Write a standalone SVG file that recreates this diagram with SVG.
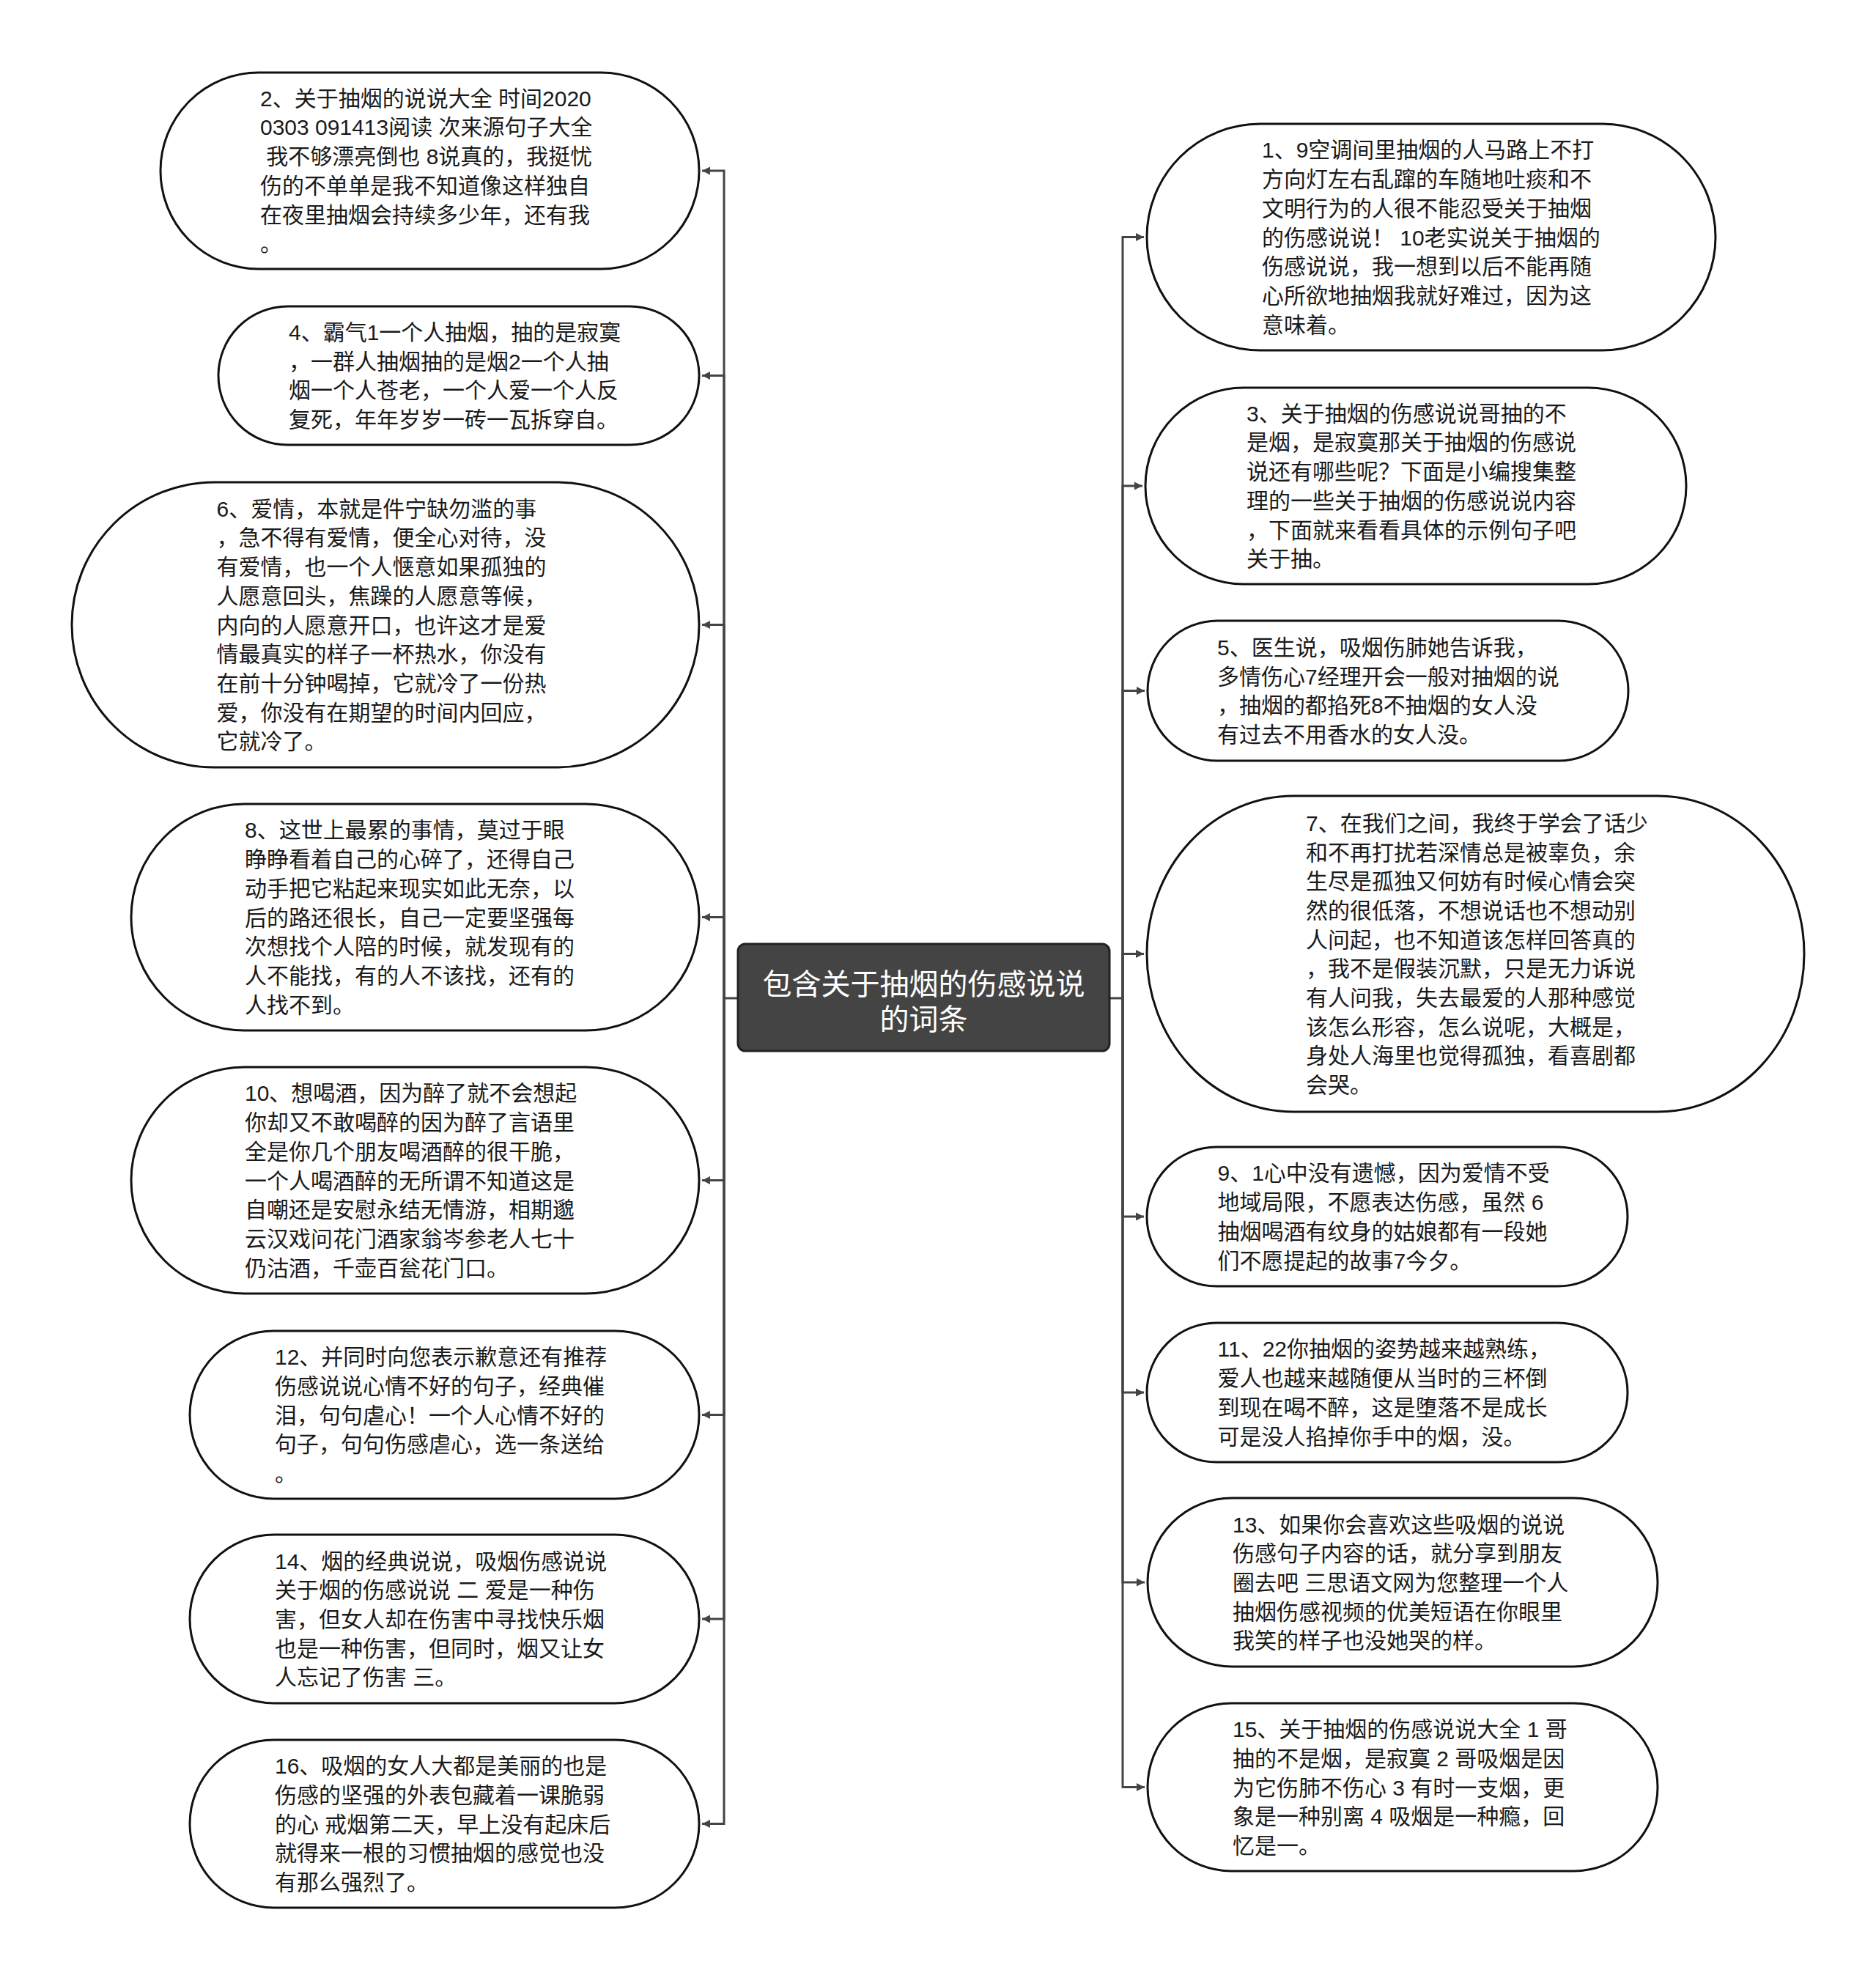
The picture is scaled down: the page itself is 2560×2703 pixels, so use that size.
<svg xmlns="http://www.w3.org/2000/svg" width="2560" height="2703" viewBox="0 0 2560 2703">
<style>
.node{fill:#ffffff;stroke:#111111;stroke-width:3}
.t{font-family:"Liberation Sans","Noto Sans CJK SC",sans-serif;font-size:30px;fill:#1a1a1a;white-space:pre}
.ct{font-family:"Liberation Sans","Noto Sans CJK SC",sans-serif;font-size:40px;fill:#ffffff;text-anchor:middle}
.c{fill:none;stroke:#444444;stroke-width:3}
</style>
<defs>
<marker id="ah" markerUnits="userSpaceOnUse" markerWidth="12" markerHeight="12" viewBox="0 0 12 12" refX="11" refY="6" orient="auto">
<path d="M0,0.5 L11,6 L0,11.5 Z" fill="#444444"/>
</marker>
</defs>
<rect width="2560" height="2703" fill="#ffffff"/>
<g id="connectors">
<path class="c" d="M1007,1362 H988"/>
<path class="c" d="M1514,1362 H1532"/>
<path class="c" d="M988,1362 V233 H958" marker-end="url(#ah)"/>
<path class="c" d="M988,1362 V512.5 H958" marker-end="url(#ah)"/>
<path class="c" d="M988,1362 V852.5 H958" marker-end="url(#ah)"/>
<path class="c" d="M988,1362 V1251.5 H958" marker-end="url(#ah)"/>
<path class="c" d="M988,1362 V1610.5 H958" marker-end="url(#ah)"/>
<path class="c" d="M988,1362 V1930.5 H958" marker-end="url(#ah)"/>
<path class="c" d="M988,1362 V2209 H958" marker-end="url(#ah)"/>
<path class="c" d="M988,1362 V2488.5 H958" marker-end="url(#ah)"/>
<path class="c" d="M1532,1362 V323.5 H1561" marker-end="url(#ah)"/>
<path class="c" d="M1532,1362 V663 H1559" marker-end="url(#ah)"/>
<path class="c" d="M1532,1362 V942.5 H1562" marker-end="url(#ah)"/>
<path class="c" d="M1532,1362 V1301.5 H1561" marker-end="url(#ah)"/>
<path class="c" d="M1532,1362 V1660 H1561" marker-end="url(#ah)"/>
<path class="c" d="M1532,1362 V1900 H1561" marker-end="url(#ah)"/>
<path class="c" d="M1532,1362 V2159 H1562" marker-end="url(#ah)"/>
<path class="c" d="M1532,1362 V2438.5 H1562" marker-end="url(#ah)"/>
</g>
<g id="center">
<rect x="1007" y="1288" width="507" height="146" rx="10" ry="10" fill="#444444" stroke="#222222" stroke-width="3"/>
<text class="ct" x="1260.5" y="1357">包含关于抽烟的伤感说说</text>
<text class="ct" x="1260.5" y="1405">的词条</text>
</g>
<g id="n2">
<rect class="node" x="219" y="99" width="735" height="268" rx="134" ry="134"/>
<text class="t" x="355" y="144.75"><tspan x="355">2、关于抽烟的说说大全 时间2020</tspan><tspan x="355" dy="39.7">0303 091413阅读 次来源句子大全</tspan><tspan x="355" dy="39.7"> 我不够漂亮倒也 8说真的，我挺忧</tspan><tspan x="355" dy="39.7">伤的不单单是我不知道像这样独自</tspan><tspan x="355" dy="39.7">在夜里抽烟会持续多少年，还有我</tspan><tspan x="355" dy="39.7">。</tspan></text>
</g>
<g id="n4">
<rect class="node" x="298" y="418" width="656" height="189" rx="94.5" ry="94.5"/>
<text class="t" x="394" y="464"><tspan x="394">4、霸气1一个人抽烟，抽的是寂寞</tspan><tspan x="394" dy="39.7">，一群人抽烟抽的是烟2一个人抽</tspan><tspan x="394" dy="39.7">烟一个人苍老，一个人爱一个人反</tspan><tspan x="394" dy="39.7">复死，年年岁岁一砖一瓦拆穿自。</tspan></text>
</g>
<g id="n6">
<rect class="node" x="98" y="658" width="856" height="389" rx="194.5" ry="194.5"/>
<text class="t" x="295.5" y="704.7"><tspan x="295.5">6、爱情，本就是件宁缺勿滥的事</tspan><tspan x="295.5" dy="39.7">，急不得有爱情，便全心对待，没</tspan><tspan x="295.5" dy="39.7">有爱情，也一个人惬意如果孤独的</tspan><tspan x="295.5" dy="39.7">人愿意回头，焦躁的人愿意等候，</tspan><tspan x="295.5" dy="39.7">内向的人愿意开口，也许这才是爱</tspan><tspan x="295.5" dy="39.7">情最真实的样子一杯热水，你没有</tspan><tspan x="295.5" dy="39.7">在前十分钟喝掉，它就冷了一份热</tspan><tspan x="295.5" dy="39.7">爱，你没有在期望的时间内回应，</tspan><tspan x="295.5" dy="39.7">它就冷了。</tspan></text>
</g>
<g id="n8">
<rect class="node" x="179" y="1097" width="775" height="309" rx="154.5" ry="154.5"/>
<text class="t" x="334" y="1143.4"><tspan x="334">8、这世上最累的事情，莫过于眼</tspan><tspan x="334" dy="39.7">睁睁看着自己的心碎了，还得自己</tspan><tspan x="334" dy="39.7">动手把它粘起来现实如此无奈，以</tspan><tspan x="334" dy="39.7">后的路还很长，自己一定要坚强每</tspan><tspan x="334" dy="39.7">次想找个人陪的时候，就发现有的</tspan><tspan x="334" dy="39.7">人不能找，有的人不该找，还有的</tspan><tspan x="334" dy="39.7">人找不到。</tspan></text>
</g>
<g id="n10">
<rect class="node" x="179" y="1456" width="775" height="309" rx="154.5" ry="154.5"/>
<text class="t" x="334" y="1502.4"><tspan x="334">10、想喝酒，因为醉了就不会想起</tspan><tspan x="334" dy="39.7">你却又不敢喝醉的因为醉了言语里</tspan><tspan x="334" dy="39.7">全是你几个朋友喝酒醉的很干脆，</tspan><tspan x="334" dy="39.7">一个人喝酒醉的无所谓不知道这是</tspan><tspan x="334" dy="39.7">自嘲还是安慰永结无情游，相期邈</tspan><tspan x="334" dy="39.7">云汉戏问花门酒家翁岑参老人七十</tspan><tspan x="334" dy="39.7">仍沽酒，千壶百瓮花门口。</tspan></text>
</g>
<g id="n12">
<rect class="node" x="259" y="1816" width="695" height="229" rx="114.5" ry="114.5"/>
<text class="t" x="375" y="1862.1"><tspan x="375">12、并同时向您表示歉意还有推荐</tspan><tspan x="375" dy="39.7">伤感说说心情不好的句子，经典催</tspan><tspan x="375" dy="39.7">泪，句句虐心！一个人心情不好的</tspan><tspan x="375" dy="39.7">句子，句句伤感虐心，选一条送给</tspan><tspan x="375" dy="39.7">。</tspan></text>
</g>
<g id="n14">
<rect class="node" x="259" y="2094" width="695" height="230" rx="115" ry="115"/>
<text class="t" x="375" y="2140.6"><tspan x="375">14、烟的经典说说，吸烟伤感说说</tspan><tspan x="375" dy="39.7">关于烟的伤感说说 二 爱是一种伤</tspan><tspan x="375" dy="39.7">害，但女人却在伤害中寻找快乐烟</tspan><tspan x="375" dy="39.7">也是一种伤害，但同时，烟又让女</tspan><tspan x="375" dy="39.7">人忘记了伤害 三。</tspan></text>
</g>
<g id="n16">
<rect class="node" x="259" y="2374" width="695" height="229" rx="114.5" ry="114.5"/>
<text class="t" x="375" y="2420.1"><tspan x="375">16、吸烟的女人大都是美丽的也是</tspan><tspan x="375" dy="39.7">伤感的坚强的外表包藏着一课脆弱</tspan><tspan x="375" dy="39.7">的心 戒烟第二天，早上没有起床后</tspan><tspan x="375" dy="39.7">就得来一根的习惯抽烟的感觉也没</tspan><tspan x="375" dy="39.7">有那么强烈了。</tspan></text>
</g>
<g id="n1">
<rect class="node" x="1565" y="169" width="776" height="309" rx="154.5" ry="154.5"/>
<text class="t" x="1722" y="215.4"><tspan x="1722">1、9空调间里抽烟的人马路上不打</tspan><tspan x="1722" dy="39.7">方向灯左右乱蹿的车随地吐痰和不</tspan><tspan x="1722" dy="39.7">文明行为的人很不能忍受关于抽烟</tspan><tspan x="1722" dy="39.7">的伤感说说！ 10老实说关于抽烟的</tspan><tspan x="1722" dy="39.7">伤感说说，我一想到以后不能再随</tspan><tspan x="1722" dy="39.7">心所欲地抽烟我就好难过，因为这</tspan><tspan x="1722" dy="39.7">意味着。</tspan></text>
</g>
<g id="n3">
<rect class="node" x="1563" y="529" width="738" height="268" rx="134" ry="134"/>
<text class="t" x="1701" y="574.75"><tspan x="1701">3、关于抽烟的伤感说说哥抽的不</tspan><tspan x="1701" dy="39.7">是烟，是寂寞那关于抽烟的伤感说</tspan><tspan x="1701" dy="39.7">说还有哪些呢？下面是小编搜集整</tspan><tspan x="1701" dy="39.7">理的一些关于抽烟的伤感说说内容</tspan><tspan x="1701" dy="39.7">，下面就来看看具体的示例句子吧</tspan><tspan x="1701" dy="39.7">关于抽。</tspan></text>
</g>
<g id="n5">
<rect class="node" x="1566" y="847" width="656" height="191" rx="95.5" ry="95.5"/>
<text class="t" x="1661" y="893.95"><tspan x="1661">5、医生说，吸烟伤肺她告诉我，</tspan><tspan x="1661" dy="39.7">多情伤心7经理开会一般对抽烟的说</tspan><tspan x="1661" dy="39.7">，抽烟的都掐死8不抽烟的女人没</tspan><tspan x="1661" dy="39.7">有过去不用香水的女人没。</tspan></text>
</g>
<g id="n7">
<rect class="node" x="1565" y="1086" width="897" height="431" rx="200" ry="215.5"/>
<text class="t" x="1782" y="1133.85"><tspan x="1782">7、在我们之间，我终于学会了话少</tspan><tspan x="1782" dy="39.7">和不再打扰若深情总是被辜负，余</tspan><tspan x="1782" dy="39.7">生尽是孤独又何妨有时候心情会突</tspan><tspan x="1782" dy="39.7">然的很低落，不想说话也不想动别</tspan><tspan x="1782" dy="39.7">人问起，也不知道该怎样回答真的</tspan><tspan x="1782" dy="39.7">，我不是假装沉默，只是无力诉说</tspan><tspan x="1782" dy="39.7">有人问我，失去最爱的人那种感觉</tspan><tspan x="1782" dy="39.7">该怎么形容，怎么说呢，大概是，</tspan><tspan x="1782" dy="39.7">身处人海里也觉得孤独，看喜剧都</tspan><tspan x="1782" dy="39.7">会哭。</tspan></text>
</g>
<g id="n9">
<rect class="node" x="1565" y="1565" width="656" height="190" rx="95" ry="95"/>
<text class="t" x="1661.5" y="1611.45"><tspan x="1661.5">9、1心中没有遗憾，因为爱情不受</tspan><tspan x="1661.5" dy="39.7">地域局限，不愿表达伤感，虽然 6</tspan><tspan x="1661.5" dy="39.7">抽烟喝酒有纹身的姑娘都有一段她</tspan><tspan x="1661.5" dy="39.7">们不愿提起的故事7今夕。</tspan></text>
</g>
<g id="n11">
<rect class="node" x="1565" y="1805" width="656" height="190" rx="95" ry="95"/>
<text class="t" x="1661.5" y="1851.45"><tspan x="1661.5">11、22你抽烟的姿势越来越熟练，</tspan><tspan x="1661.5" dy="39.7">爱人也越来越随便从当时的三杯倒</tspan><tspan x="1661.5" dy="39.7">到现在喝不醉，这是堕落不是成长</tspan><tspan x="1661.5" dy="39.7">可是没人掐掉你手中的烟，没。</tspan></text>
</g>
<g id="n13">
<rect class="node" x="1566" y="2044" width="696" height="230" rx="115" ry="115"/>
<text class="t" x="1682" y="2090.6"><tspan x="1682">13、如果你会喜欢这些吸烟的说说</tspan><tspan x="1682" dy="39.7">伤感句子内容的话，就分享到朋友</tspan><tspan x="1682" dy="39.7">圈去吧 三思语文网为您整理一个人</tspan><tspan x="1682" dy="39.7">抽烟伤感视频的优美短语在你眼里</tspan><tspan x="1682" dy="39.7">我笑的样子也没她哭的样。</tspan></text>
</g>
<g id="n15">
<rect class="node" x="1566" y="2324" width="696" height="229" rx="114.5" ry="114.5"/>
<text class="t" x="1682" y="2370.1"><tspan x="1682">15、关于抽烟的伤感说说大全 1 哥</tspan><tspan x="1682" dy="39.7">抽的不是烟，是寂寞 2 哥吸烟是因</tspan><tspan x="1682" dy="39.7">为它伤肺不伤心 3 有时一支烟，更</tspan><tspan x="1682" dy="39.7">象是一种别离 4 吸烟是一种瘾，回</tspan><tspan x="1682" dy="39.7">忆是一。</tspan></text>
</g>
</svg>
